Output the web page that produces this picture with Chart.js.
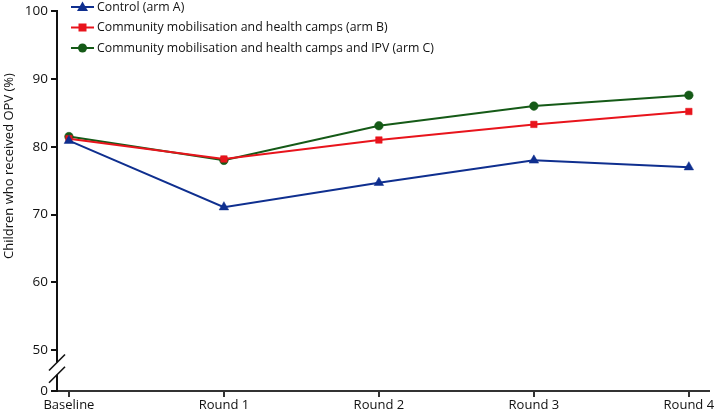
<!DOCTYPE html>
<html>
<head>
<meta charset="utf-8">
<script src="https://cdn.jsdelivr.net/npm/chart.js@4"></script>
<style>
  html, body { margin: 0; padding: 0; background: #fff; }
  #wrap { width: 715px; height: 414px; }
</style>
</head>
<body>
<div id="wrap"><canvas id="oprChart" width="715" height="414"></canvas></div>
<script>
// data
const rounds = ['Baseline', 'Round 1', 'Round 2', 'Round 3', 'Round 4'];
const armA = [80.9, 71.1, 74.7, 78.0, 77.0];
const armB = [81.2, 78.2, 81.0, 83.3, 85.2];
const armC = [81.5, 78.0, 83.1, 86.0, 87.6];
const yTickValues = [44, 50, 60, 70, 80, 90, 100];
const yTickLabels = ['0', '50', '60', '70', '80', '90', '100'];

const FONT = '"Open Sans", "Noto Sans", sans-serif';
const BLUE = '#0f2f8f';
const RED = '#e8141c';
const GREEN = '#155a17';

const toPoints = arr => arr.map((v, i) => ({ x: i, y: v }));

// legend drawn inside the plot, top left
const insideLegend = {
    id: 'insideLegend',
    afterDraw(chart) {
        const ctx = chart.ctx;
        ctx.save();
        chart.data.datasets.forEach((ds, i) => {
            const y = 7 + i * 20.5;
            ctx.strokeStyle = ds.borderColor;
            ctx.lineWidth = 2;
            ctx.beginPath();
            ctx.moveTo(71, y);
            ctx.lineTo(94, y);
            ctx.stroke();
            ctx.fillStyle = ds.borderColor;
            ctx.beginPath();
            if (ds.pointStyle === 'triangle') {
                ctx.moveTo(82.5, y - 5.5);
                ctx.lineTo(88, y + 4);
                ctx.lineTo(77, y + 4);
                ctx.closePath();
            } else if (ds.pointStyle === 'rect') {
                ctx.rect(78.5, y - 4, 8, 8);
            } else {
                ctx.arc(82.5, y, 4.5, 0, Math.PI * 2);
            }
            ctx.fill();
            ctx.fillStyle = '#111';
            ctx.font = '12.3px ' + FONT;
            ctx.textBaseline = 'middle';
            ctx.fillText(ds.label, 97, y);
        });
        ctx.restore();
    }
};

// axis break marks between 0 and 50
const axisBreak = {
    id: 'axisBreak',
    afterDraw(chart) {
        const ctx = chart.ctx;
        const ys = chart.scales.y;
        const x = chart.chartArea.left;
        const yUp = ys.getPixelForValue(48.2);
        const yLo = ys.getPixelForValue(46.4);
        ctx.save();
        ctx.fillStyle = '#fff';
        ctx.fillRect(x - 3, yUp, 6, yLo - yUp);
        ctx.strokeStyle = '#111';
        ctx.lineWidth = 1.6;
        [yUp, yLo].forEach(yc => {
            ctx.beginPath();
            ctx.moveTo(x - 8, yc + 8);
            ctx.lineTo(x + 8, yc - 8);
            ctx.stroke();
        });
        ctx.restore();
    }
};

// y title placed by hand
const yTitle = {
    id: 'yTitle',
    afterDraw(chart) {
        const ctx = chart.ctx;
        ctx.save();
        ctx.translate(9, 166);
        ctx.rotate(-Math.PI / 2);
        ctx.fillStyle = '#111';
        ctx.font = '13px ' + FONT;
        ctx.textAlign = 'center';
        ctx.textBaseline = 'middle';
        ctx.fillText('Children who received OPV (%)', 0, 0);
        ctx.restore();
    }
};

const ctx = document.getElementById('oprChart').getContext('2d');
new Chart(ctx, {
    type: 'line',
    data: {
        datasets: [
            {
                label: 'Control (arm A)',
                data: toPoints(armA),
                borderColor: BLUE,
                backgroundColor: BLUE,
                pointStyle: 'triangle',
                pointRadius: 5.5,
                pointBorderWidth: 0.5,
                borderWidth: 2
            },
            {
                label: 'Community mobilisation and health camps (arm B)',
                data: toPoints(armB),
                borderColor: RED,
                backgroundColor: RED,
                pointStyle: 'rect',
                pointRadius: 4.6,
                pointBorderWidth: 0.5,
                borderWidth: 2
            },
            {
                label: 'Community mobilisation and health camps and IPV (arm C)',
                data: toPoints(armC),
                borderColor: GREEN,
                backgroundColor: GREEN,
                pointStyle: 'circle',
                pointRadius: 4.3,
                pointBorderWidth: 0.5,
                borderWidth: 2
            }
        ]
    },
    options: {
        responsive: false,
        animation: false,
        layout: { padding: { top: 8, right: 5, left: 0, bottom: 0 } },
        plugins: {
            legend: { display: false },
            tooltip: { enabled: false }
        },
        scales: {
            x: {
                type: 'linear',
                min: -0.077,
                max: 4.13,
                afterBuildTicks: scale => { scale.ticks = rounds.map((_, i) => ({ value: i })); },
                afterFit: scale => { scale.height = 23; },
                grid: { display: true, drawOnChartArea: false, drawTicks: true, tickLength: 6, tickColor: '#333', lineWidth: 2 },
                border: { display: true, color: '#333', width: 2 },
                ticks: {
                    padding: 0,
                    maxRotation: 0,
                    color: '#111',
                    font: { family: FONT, size: 13 },
                    callback: v => rounds[v]
                }
            },
            y: {
                min: 44,
                max: 100,
                afterBuildTicks: scale => { scale.ticks = yTickValues.map(v => ({ value: v })); },
                afterFit: scale => { scale.width = 57; },
                grid: { display: true, drawOnChartArea: false, drawTicks: true, tickLength: 6, tickColor: '#111', lineWidth: 2 },
                border: { display: true, color: '#111', width: 2 },
                ticks: {
                    padding: 3,
                    color: '#111',
                    font: { family: FONT, size: 13.5 },
                    callback: v => yTickLabels[yTickValues.indexOf(v)]
                }
            }
        }
    },
    plugins: [insideLegend, axisBreak, yTitle]
});
</script>
</body>
</html>
